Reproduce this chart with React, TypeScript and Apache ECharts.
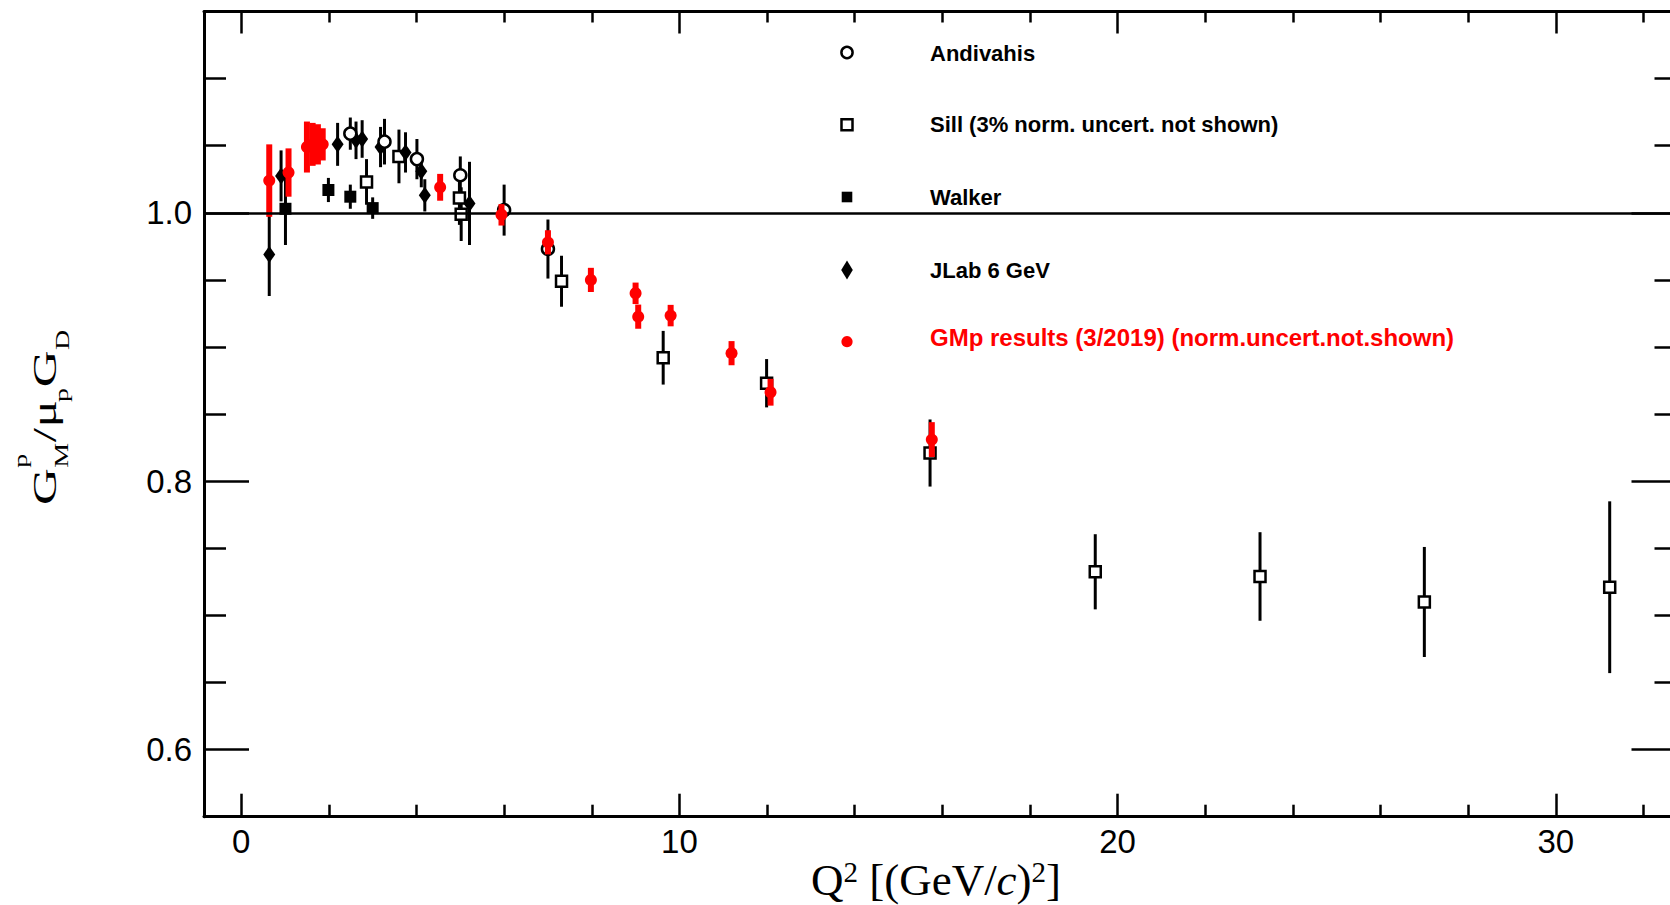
import React, { useEffect, useRef } from "react";
import * as echarts from "echarts";

// ---------- data ----------
const andivahisQ2 = [2.49, 3.27, 4.01, 5.0, 6.0, 7.0];
const andivahisVal = [1.059, 1.053, 1.04, 1.028, 1.002, 0.973];
const andivahisErr = [0.012, 0.017, 0.015, 0.014, 0.019, 0.022];

const sillQ2 = [2.86, 3.6, 4.98, 5.02, 7.31, 9.63, 11.99, 15.72, 19.49, 23.25, 27.0, 31.23];
const sillVal = [1.023, 1.042, 1.011, 0.999, 0.949, 0.892, 0.873, 0.821, 0.7325, 0.729, 0.71, 0.721];
const sillErr = [0.017, 0.02, 0.02, 0.02, 0.019, 0.02, 0.018, 0.025, 0.028, 0.033, 0.041, 0.064];

const walkerQ2 = [1.01, 1.99, 2.49, 3.0];
const walkerVal = [1.003, 1.017, 1.012, 1.0035];
const walkerErr = [0.027, 0.009, 0.009, 0.008];

const jlabQ2 = [0.64, 0.91, 2.2, 2.62, 2.76, 3.18, 3.75, 4.11, 4.19, 5.21];
const jlabVal = [0.969, 1.0275, 1.051, 1.054, 1.055, 1.049, 1.045, 1.031, 1.013, 1.007];
const jlabErr = [0.031, 0.019, 0.016, 0.014, 0.014, 0.015, 0.015, 0.012, 0.012, 0.031];

const gmpQ2 = [0.64, 1.08, 1.5, 1.63, 1.75, 1.86, 4.54, 5.94, 7.0, 7.98, 9.0, 9.06, 9.8, 11.19, 12.08, 15.76];
const gmpVal = [1.024, 1.03, 1.049, 1.051, 1.051, 1.051, 1.019, 0.9985, 0.978, 0.95, 0.94, 0.9226, 0.9234, 0.8954, 0.8663, 0.831];
const gmpErr = [0.027, 0.018, 0.019, 0.016, 0.015, 0.012, 0.01, 0.008, 0.009, 0.009, 0.008, 0.009, 0.008, 0.009, 0.01, 0.013];

const referenceLine = 1.0;

const xMajorTicks = [0, 10, 20, 30];
const xMinorTicks = [2, 4, 6, 8, 12, 14, 16, 18, 22, 24, 26, 28, 32];
const yMajorTicks = [0.6, 0.8, 1.0];
const yMinorTicks = [0.65, 0.7, 0.75, 0.85, 0.9, 0.95, 1.05, 1.1];

const legendLabels = [
  "Andivahis",
  "Sill (3% norm. uncert. not shown)",
  "Walker",
  "JLab 6 GeV",
  "GMp results (3/2019) (norm.uncert.not.shown)",
];

const X_MIN = -0.849;
const X_MAX = 32.8;
const Y_MIN = 0.55;
const Y_MAX = 1.15;

const RED = "#ff0000";
const SANS = '"Liberation Sans", Arial, Helvetica, sans-serif';
const SERIF = '"Liberation Serif", "Times New Roman", Times, serif';

function errorSeries(name: string, q: number[], v: number[], e: number[], color: string, width: number, z: number, extra: any = {}) {
  return {
    type: "custom",
    name,
    xAxisIndex: 0,
    yAxisIndex: 0,
    z,
    silent: true,
    data: q.map((x, i) => [x, v[i], e[i]]),
    encode: { x: 0, y: 1 },
    renderItem: (_params: any, api: any) => {
      const x = api.value(0);
      const y = api.value(1);
      const err = api.value(2);
      const p1 = api.coord([x, y + err]);
      const p2 = api.coord([x, y - err]);
      return {
        type: "line",
        shape: { x1: p1[0], y1: p1[1], x2: p2[0], y2: p2[1] },
        style: { stroke: color, lineWidth: width },
      };
    },
    ...extra,
  };
}

function scatterSeries(name: string, q: number[], v: number[], symbol: string, size: any, itemStyle: any, z: number) {
  return {
    type: "scatter",
    name,
    xAxisIndex: 0,
    yAxisIndex: 0,
    z,
    silent: true,
    symbol,
    symbolSize: size,
    itemStyle: { opacity: 1, ...itemStyle },
    data: q.map((x, i) => [x, v[i]]),
  };
}

function xAxisDef(gridIndex: number, position: string, ticks: number[], len: number, showLine: boolean, showLabel: boolean) {
  return {
    type: "value",
    gridIndex,
    position,
    min: X_MIN,
    max: X_MAX,
    axisLine: { show: showLine, onZero: false, lineStyle: { color: "#000", width: 3 } },
    axisTick: { show: true, inside: true, length: len, customValues: ticks, lineStyle: { color: "#000", width: 2.5 } },
    axisLabel: {
      show: showLabel,
      customValues: ticks,
      margin: 8,
      color: "#000",
      fontSize: 33,
      fontFamily: SANS,
      formatter: (v: number) => String(Math.round(v)),
    },
    splitLine: { show: false },
  };
}

function yAxisDef(gridIndex: number, position: string, ticks: number[], len: number, showLine: boolean, showLabel: boolean) {
  return {
    type: "value",
    gridIndex,
    position,
    min: Y_MIN,
    max: Y_MAX,
    axisLine: { show: showLine, onZero: false, lineStyle: { color: "#000", width: 3 } },
    axisTick: { show: true, inside: true, length: len, customValues: ticks, lineStyle: { color: "#000", width: 2.5 } },
    axisLabel: {
      show: showLabel,
      customValues: ticks,
      margin: 12,
      color: "#000",
      fontSize: 33,
      fontFamily: SANS,
      formatter: (v: number) => v.toFixed(1),
    },
    splitLine: { show: false },
  };
}

function buildOption() {
  const gridRect = { left: 204, top: 11.5, width: 1474.5, height: 805.2 };

  // legend (drawn with graphic elements)
  const lx = 847;
  const rowY = [52.5, 124.8, 197, 270, 341.7];
  const textY = [53, 124.5, 197, 270.5, 337];
  const legendGraphics: any[] = [
    { type: "circle", shape: { cx: lx, cy: rowY[0], r: 5.6 }, style: { fill: "#fff", stroke: "#000", lineWidth: 2.5 } },
    { type: "rect", shape: { x: lx - 5.5, y: rowY[1] - 5.5, width: 11, height: 11 }, style: { fill: "#fff", stroke: "#000", lineWidth: 2.5 } },
    { type: "rect", shape: { x: lx - 5.3, y: rowY[2] - 5.3, width: 10.6, height: 10.6 }, style: { fill: "#000" } },
    {
      type: "polygon",
      shape: { points: [[lx, rowY[3] - 9.5], [lx + 5.8, rowY[3]], [lx, rowY[3] + 9.5], [lx - 5.8, rowY[3]]] },
      style: { fill: "#000" },
    },
    { type: "circle", shape: { cx: lx, cy: rowY[4], r: 5.6 }, style: { fill: RED } },
  ];
  legendLabels.forEach((t, i) => {
    legendGraphics.push({
      type: "text",
      x: 930,
      y: textY[i],
      style: {
        text: t,
        fill: i === 4 ? RED : "#000",
        fontSize: i === 4 ? 24 : 22,
        fontWeight: "bold",
        fontFamily: SANS,
        align: "left",
        verticalAlign: "middle",
      },
    });
  });

  // x axis title
  const xTitle = {
    type: "text",
    x: 936,
    y: 880,
    style: {
      text: "{m|Q}{s|2}{m| [(GeV/}{i|c}{m|)}{s|2}{m|]}",
      align: "center",
      verticalAlign: "middle",
      rich: {
        m: { fontSize: 45, fontFamily: SERIF, fill: "#000", lineHeight: 45 },
        i: { fontSize: 45, fontFamily: SERIF, fontStyle: "italic", fill: "#000", lineHeight: 45 },
        s: { fontSize: 29, fontFamily: SERIF, fill: "#000", verticalAlign: "top", lineHeight: 29 },
      },
    },
  };

  // y axis title: G^p_M / mu_p G_D, rotated, stretched along baseline
  const F = 33;
  const f = 18;
  const mid = (size: number, base: number) => base - 0.32 * size;
  const yt = (text: string, x: number, size: number, base: number) => ({
    type: "text",
    x,
    y: mid(size, base),
    style: { text, fontSize: size, fontFamily: SERIF, fill: "#000", align: "left", verticalAlign: "middle" },
  });
  const yTitle = {
    type: "group",
    x: 55,
    y: 505,
    rotation: Math.PI / 2,
    scaleX: 1.55,
    children: [
      yt("G", 0, F, 0),
      yt("p", 24, f, -28),
      yt("M", 24, f, 13),
      yt("/", 40.5, F, 0),
      yt("\u03bc", 50, F, 0),
      yt("p", 66.5, f, 13),
      yt("G", 76, F, 0),
      yt("D", 100, f, 14),
    ],
  };

  return {
    animation: false,
    backgroundColor: "#fff",
    grid: [
      { ...gridRect, containLabel: false },
      { ...gridRect, containLabel: false },
    ],
    xAxis: [
      xAxisDef(0, "bottom", xMajorTicks, 23, true, true),
      xAxisDef(0, "top", xMajorTicks, 22, true, false),
      xAxisDef(1, "bottom", xMinorTicks, 12, false, false),
      xAxisDef(1, "top", xMinorTicks, 11, false, false),
    ],
    yAxis: [
      yAxisDef(0, "left", yMajorTicks, 45, true, true),
      yAxisDef(0, "right", yMajorTicks, 47, true, false),
      yAxisDef(1, "left", yMinorTicks, 22, false, false),
      yAxisDef(1, "right", yMinorTicks, 24, false, false),
    ],
    series: [
      errorSeries("Andivahis errors", andivahisQ2, andivahisVal, andivahisErr, "#000", 3, 2, {
        markLine: {
          silent: true,
          symbol: ["none", "none"],
          label: { show: false },
          lineStyle: { color: "#000", width: 2.5, type: "solid" },
          data: [{ yAxis: referenceLine }],
        },
      }),
      errorSeries("Sill errors", sillQ2, sillVal, sillErr, "#000", 3, 2),
      errorSeries("Walker errors", walkerQ2, walkerVal, walkerErr, "#000", 3, 2),
      errorSeries("JLab 6 GeV errors", jlabQ2, jlabVal, jlabErr, "#000", 3, 2),
      scatterSeries("Sill", sillQ2, sillVal, "rect", 11, { color: "#fff", borderColor: "#000", borderWidth: 2.5 }, 3),
      scatterSeries("Walker", walkerQ2, walkerVal, "rect", 12, { color: "#000" }, 3),
      scatterSeries("JLab 6 GeV", jlabQ2, jlabVal, "diamond", [12, 17], { color: "#000" }, 3),
      scatterSeries("Andivahis", andivahisQ2, andivahisVal, "circle", 12, { color: "#fff", borderColor: "#000", borderWidth: 2.5 }, 3),
      errorSeries("GMp errors", gmpQ2, gmpVal, gmpErr, RED, 6, 4),
      scatterSeries("GMp results (3/2019)", gmpQ2, gmpVal, "circle", 12, { color: RED }, 5),
    ],
    graphic: [...legendGraphics, xTitle, yTitle],
  };
}

export default function App() {
  const ref = useRef<HTMLDivElement>(null);
  useEffect(() => {
    if (!ref.current) return;
    const chart = echarts.init(ref.current, null, { renderer: "svg" });
    chart.setOption(buildOption() as any);
    return () => chart.dispose();
  }, []);
  return (
    <div
      style={{
        position: "fixed",
        left: 0,
        top: 0,
        width: 1670,
        height: 905,
        overflow: "hidden",
        background: "#fff",
      }}
    >
      <div ref={ref} style={{ width: 1690, height: 905 }} />
    </div>
  );
}
